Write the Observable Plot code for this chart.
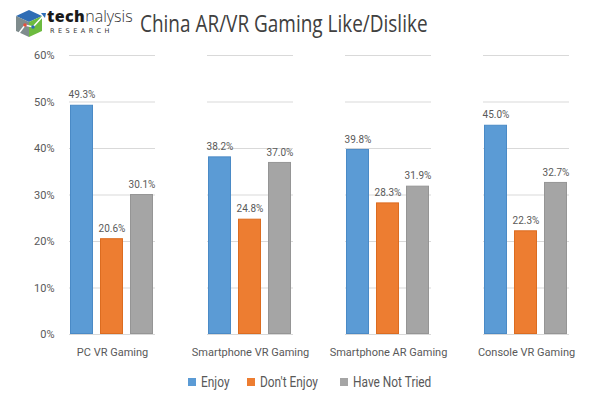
<!DOCTYPE html>
<html>
<head>
<meta charset="utf-8">
<script src="https://cdn.jsdelivr.net/npm/d3@7"></script>
<script src="https://cdn.jsdelivr.net/npm/@observablehq/plot@0.6"></script>
<style>
  body { margin: 0; background: #fff; width: 611px; height: 404px; overflow: hidden;
         font-family: Roboto, "Open Sans", sans-serif; }
  #header { position: relative; height: 45px; }
  #logo { position: absolute; left: 14px; top: 7px; }
  #brand1 { position: absolute; left: 47px; top: 7px; height: 18px; line-height: 18px; white-space: nowrap;
            font-family: "Open Sans", sans-serif; font-size: 16px; color: #1a1a1a; }
  #brand1 b { font-weight: 800; letter-spacing: 0.4px; }
  #brand1 span { color: #333; font-weight: 300; }
  #brand2 { position: absolute; left: 50px; top: 27px; height: 8px; line-height: 8px; white-space: nowrap;
            font-family: "DejaVu Sans", sans-serif; font-size: 6.5px; letter-spacing: 3.5px; color: #333; }
  #title { position: absolute; left: 140px; top: 6px; font-size: 24px; color: #404040;
           font-family: "Open Sans", sans-serif; transform: scaleX(0.79); transform-origin: left top; white-space: nowrap; }
  #legend { display: flex; justify-content: center; gap: 12px; font-size: 14px; color: #595959; margin-top: 9px; padding-left: 22px; }
  #legend .item { display: flex; align-items: center; gap: 5px; }
  #legend .sw { width: 8px; height: 8px; display: inline-block; }
  #legend .lb { display: inline-block; transform: scaleX(0.85); transform-origin: left center; }
</style>
</head>
<body>
<div id="header">
  <svg id="logo" width="34" height="34" viewBox="0 0 34 34">
    <polygon points="2,9 15,3 28,9 15,15" fill="#2f6db5"/>
    <polygon points="2,9 15,15 15,30 2,24" fill="#7f8c8d"/>
    <polygon points="15,15 28,9 28,24 15,30" fill="#6dbb3f"/>
    <polyline points="5,26 11,18 19,20 30,8" fill="none" stroke="#fff" stroke-width="1.5"/>
    <circle cx="11" cy="18" r="1.8" fill="#e94e3c"/>
    <circle cx="19" cy="20" r="1.8" fill="#2f6db5"/>
    <polygon points="27,6 32,6 31,11" fill="#2f6db5"/>
  </svg>
  <div id="brand1"><b>tech</b><span>nalysis</span></div>
  <div id="brand2">RESEARCH</div>
  <div id="title">China AR/VR Gaming Like/Dislike</div>
</div>
<div id="chart"></div>
<div id="legend"></div>
<script>
const categories = ["PC VR Gaming", "Smartphone VR Gaming", "Smartphone AR Gaming", "Console VR Gaming"];
const seriesNames = ["Enjoy", "Don't Enjoy", "Have Not Tried"];
const enjoy = [49.3, 38.2, 39.8, 45.0];
const dontEnjoy = [20.6, 24.8, 28.3, 22.3];
const haveNotTried = [30.1, 37.0, 31.9, 32.7];
const colors = ["#5b9bd5", "#ed7d31", "#a5a5a5"];
const strokes = ["#4a8ac6", "#dc6c20", "#959595"];
const yTicks = [0, 10, 20, 30, 40, 50, 60];

const seriesValues = [enjoy, dontEnjoy, haveNotTried];
const data = [];
categories.forEach((c, i) => seriesNames.forEach((s, j) => data.push({category: c, series: s, value: seriesValues[j][i]})));

const chart = Plot.plot({
  width: 611,
  height: 320,
  marginLeft: 42,
  marginRight: 16,
  marginTop: 10,
  marginBottom: 31,
  style: {fontFamily: 'Roboto, "Open Sans", sans-serif', fontSize: "11px", color: "#595959"},
  fx: {domain: categories, paddingInner: 0.377, paddingOuter: 0.188, label: null},
  x: {domain: seriesNames, paddingInner: 0.22, paddingOuter: 0, axis: null},
  y: {domain: [0, 60], label: null},
  color: {domain: seriesNames, range: colors},
  marks: [
    Plot.gridY(yTicks, {stroke: "#d9d9d9", strokeOpacity: 1, strokeWidth: 1}),
    Plot.axisY(yTicks, {tickSize: 0, tickPadding: 15, tickFormat: d => d + "%", label: null, fontSize: 11, fill: "#595959"}),
    Plot.axisFx({anchor: "bottom", tickSize: 0, tickPadding: 14, label: null, fontSize: 11, fill: "#595959"}),
    Plot.barY(data, {fx: "category", x: "series", y: "value", fill: "series",
      stroke: d => strokes[seriesNames.indexOf(d.series)], strokeWidth: 1, inset: 0.5}),
    Plot.text(data, {fx: "category", x: "series", y: "value", text: d => d.value.toFixed(1) + "%",
      dy: -10, fontSize: 10, fill: "#595959"})
  ]
});
document.getElementById("chart").appendChild(chart);

const legend = document.getElementById("legend");
seriesNames.forEach((s, i) => {
  const item = document.createElement("div");
  item.className = "item";
  item.innerHTML = `<span class="sw" style="background:${colors[i]}"></span><span class="lb">${s}</span>`;
  legend.appendChild(item);
});
</script>
</body>
</html>
